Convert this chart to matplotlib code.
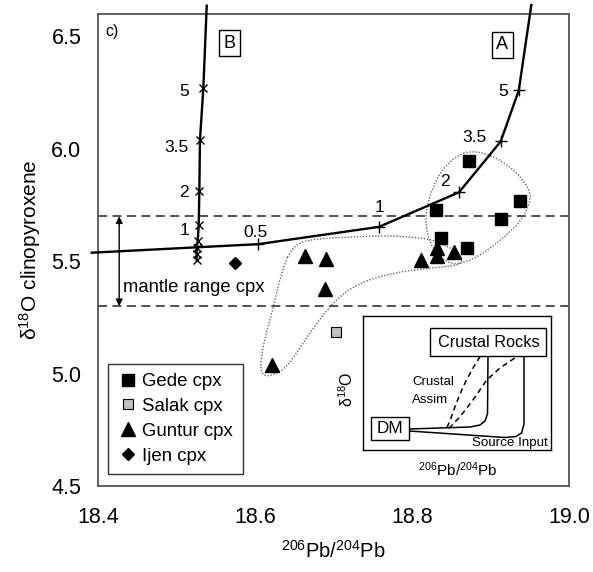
import matplotlib
matplotlib.use('Agg')
import matplotlib.pyplot as plt
from matplotlib.patches import Rectangle, PathPatch
from matplotlib.path import Path

plt.rcParams['font.family'] = ['Liberation Sans', 'DejaVu Sans']
plt.rcParams['mathtext.default'] = 'regular'

# ---------------- data ----------------
gede_x = [18.873, 18.938, 18.830, 18.913, 18.837, 18.870]
gede_y = [5.945, 5.767, 5.728, 5.686, 5.604, 5.557]
salak_x = [18.703]
salak_y = [5.186]
guntur_x = [18.622, 18.664, 18.691, 18.689, 18.811, 18.832, 18.832, 18.854]
guntur_y = [5.040, 5.524, 5.512, 5.378, 5.506, 5.561, 5.524, 5.539]
ijen_x = [18.575]
ijen_y = [5.490]

# mixing curve A (+ markers at 0.5, 1, 2, 3.5, 5)
curveA_x = [18.392, 18.604, 18.758, 18.860, 18.913, 18.936, 18.952]
curveA_y = [5.538, 5.576, 5.653, 5.807, 6.033, 6.260, 6.640]
markA_x = [18.604, 18.758, 18.860, 18.913, 18.936]
markA_y = [5.576, 5.653, 5.807, 6.033, 6.260]
labelsA = ['0.5', '1', '2', '3.5', '5']
labelA_x = [18.600, 18.758, 18.842, 18.880, 18.916]
labelA_y = [5.629, 5.741, 5.853, 6.049, 6.254]

# mixing curve B (x markers)
curveB_x = [18.5257, 18.5257, 18.5257, 18.5270, 18.5283, 18.5291, 18.5299, 18.5342, 18.5385]
curveB_y = [5.504, 5.531, 5.561, 5.588, 5.661, 5.811, 6.040, 6.271, 6.637]
markB_x = curveB_x[:-1]
markB_y = curveB_y[:-1]
labelsB = ['1', '2', '3.5', '5']
labelB_y = [5.638, 5.804, 6.004, 6.254]
labelB_x = 18.516

mantle_low, mantle_high = 5.3, 5.7

# envelopes (dotted fields), outline vertices
gede_env_x = [18.874, 18.896, 18.921, 18.941, 18.952, 18.948, 18.940, 18.925, 18.903,
              18.883, 18.864, 18.851, 18.836, 18.823, 18.817, 18.819, 18.827, 18.839, 18.857]
gede_env_y = [5.991, 5.978, 5.933, 5.866, 5.799, 5.741, 5.688, 5.630, 5.567,
              5.518, 5.491, 5.487, 5.518, 5.576, 5.665, 5.746, 5.835, 5.911, 5.969]
gunt_env_x = [18.6446, 18.6535, 18.6675, 18.6917, 18.7210, 18.7465, 18.7809, 18.7975,
              18.8140, 18.8318, 18.8446, 18.8573, 18.8650, 18.8611, 18.8484, 18.8318,
              18.8102, 18.7809, 18.7465, 18.7299, 18.7146, 18.7019, 18.6892, 18.6701,
              18.6535, 18.6408, 18.6255, 18.6127, 18.6064, 18.6089, 18.6153, 18.6229,
              18.6293, 18.6382]
gunt_env_y = [5.540, 5.576, 5.594, 5.603, 5.607, 5.612, 5.612, 5.607,
              5.603, 5.589, 5.567, 5.540, 5.509, 5.487, 5.478, 5.473,
              5.464, 5.451, 5.420, 5.393, 5.362, 5.321, 5.272, 5.183,
              5.094, 5.031, 4.996, 4.987, 5.018, 5.094, 5.196, 5.286,
              5.388, 5.496]

# inset schematic (drawn in its own pixel-like frame)
inset_solid1 = [(409, 429), (470, 427), (480, 425), (485, 421), (487.5, 414), (488, 357)]
inset_solid2 = [(409, 431), (505, 437.5), (516, 436.5), (521.5, 433), (524, 424), (524, 357)]
inset_dash1 = [(447, 427.5), (451, 418), (455, 406.7), (460, 394), (465, 383), (473, 368), (480, 356.7)]
inset_dash2 = [(449, 428.3), (460, 416.7), (473, 400), (486.7, 380), (500, 368), (516.7, 356.7)]


def smooth_closed_path(xs, ys):
    """Closed outline using quadratic Bezier segments with the vertices as control points."""
    pts = list(zip(xs, ys))
    n = len(pts)
    mids = [((pts[i][0] + pts[(i + 1) % n][0]) / 2, (pts[i][1] + pts[(i + 1) % n][1]) / 2)
            for i in range(n)]
    verts = [mids[-1]]
    codes = [Path.MOVETO]
    for i in range(n):
        verts += [pts[i], mids[i]]
        codes += [Path.CURVE3, Path.CURVE3]
    return Path(verts, codes)


# ---------------- figure ----------------
fig = plt.figure(figsize=(5.93, 5.72), dpi=100)
ax = fig.add_axes([98/593, 86/572, 471/593, 472/572])
ax.set_xlim(18.4, 19.0)
ax.set_ylim(4.5, 6.6)
ax.set_xticks([18.4, 18.6, 18.8, 19.0])
ax.set_xticklabels(['18.4', '18.6', '18.8', '19.0'])
ax.set_yticks([4.5, 5.0, 5.5, 6.0, 6.5])
ax.set_yticklabels(['4.5', '5.0', '5.5', '6.0', '6.5'])
ax.tick_params(axis='both', length=0, labelsize=15.5)
ax.tick_params(axis='x', pad=15)
ax.tick_params(axis='y', pad=12)
for s in ax.spines.values():
    s.set_color('#555555')
    s.set_linewidth(1.3)

ax.set_ylabel('δ$^{18}$O clinopyroxene', fontsize=15)
ax.yaxis.set_label_coords((43-98)/471, 0.5)
ax.set_xlabel('$^{206}$Pb/$^{204}$Pb', fontsize=14.5)
ax.xaxis.set_label_coords(0.5, (486-540)/472)

# mantle range
for yv in (mantle_low, mantle_high):
    ax.axhline(yv, color='#444444', lw=1.3, dashes=(5, 3))
ax.annotate('', xy=(18.427, mantle_high), xytext=(18.427, mantle_low),
            arrowprops=dict(arrowstyle='<|-|>', color='black', lw=1, mutation_scale=10,
                            shrinkA=0, shrinkB=0))
ax.text(18.432, 5.384, 'mantle range cpx', fontsize=13.3, ha='left', va='center')

# envelopes
for ex, ey in ((gede_env_x, gede_env_y), (gunt_env_x, gunt_env_y)):
    ax.add_patch(PathPatch(smooth_closed_path(ex, ey), fill=False,
                           ec='#666666', lw=1, ls=(0, (1, 1.2))))

# curves
ax.plot(curveA_x, curveA_y, color='black', lw=1.7, clip_on=False, zorder=3)
ax.plot(markA_x, markA_y, ls='none', marker='+', ms=8, mew=1, color='black', zorder=3)
ax.plot(curveB_x, curveB_y, color='black', lw=1.7, clip_on=False, zorder=3)
ax.plot(markB_x, markB_y, ls='none', marker='x', ms=6, mew=1, color='black', zorder=3)
for t, xx, yy in zip(labelsA, labelA_x, labelA_y):
    ax.text(xx, yy, t, fontsize=12.5, ha='center', va='center')
for t, yy in zip(labelsB, labelB_y):
    ax.text(labelB_x, yy, t, fontsize=12.5, ha='right', va='center')

# A / B boxes and panel letter
for t, xx, yy in (('A', 18.915, 6.464), ('B', 18.568, 6.469)):
    ax.text(xx, yy, t, fontsize=13, ha='center', va='center',
            bbox=dict(boxstyle='square,pad=0.25', fc='white', ec='black', lw=1))
ax.text(18.409, 6.522, 'c)', fontsize=11.5, ha='left', va='center')

# data
ax.plot(gede_x, gede_y, ls='none', marker='s', ms=8.5, color='black', label='Gede cpx', zorder=4)
ax.plot(salak_x, salak_y, ls='none', marker='s', ms=6.5, mfc='#c0c0c0', mec='black', mew=0.8,
        label='Salak cpx', zorder=4)
ax.plot(guntur_x, guntur_y, ls='none', marker='^', ms=10, color='black', label='Guntur cpx', zorder=4)
ax.plot(ijen_x, ijen_y, ls='none', marker='D', ms=6.5, color='black', label='Ijen cpx', zorder=4)

leg = ax.legend(loc='lower left', bbox_to_anchor=((108-98)/471, (486-474)/472),
                borderaxespad=0, fontsize=13.4, frameon=True, fancybox=False,
                edgecolor='black', handlelength=1.2, handletextpad=0.15,
                labelspacing=0.42, borderpad=0.5)
leg.get_frame().set_linewidth(1)

# inset schematic
ins = fig.add_axes([363/593, (572-450)/572, 188/593, 134/572])
ins.set_xlim(363, 551)
ins.set_ylim(450, 316)
ins.set_xticks([]); ins.set_yticks([])
for s in ins.spines.values():
    s.set_linewidth(1)
    s.set_color('black')
ins.add_patch(Rectangle((430, 328), 116, 28, fc='white', ec='black', lw=1, zorder=3))
ins.text(489, 342.5, 'Crustal Rocks', fontsize=11.7, ha='center', va='center', zorder=4)
ins.add_patch(Rectangle((371, 417), 38, 23, fc='white', ec='black', lw=1, zorder=3))
ins.text(390, 428.5, 'DM', fontsize=12.3, ha='center', va='center', zorder=4)
for pts in (inset_solid1, inset_solid2):
    ins.plot([p[0] for p in pts], [p[1] for p in pts], color='black', lw=1.1)
for pts in (inset_dash1, inset_dash2):
    ins.plot([p[0] for p in pts], [p[1] for p in pts], color='black', lw=1.1, dashes=(3.5, 2.5))
ins.text(412, 382, 'Crustal', fontsize=9.5, ha='left', va='center')
ins.text(412, 400, 'Assim', fontsize=9.5, ha='left', va='center')
ins.text(472, 443, 'Source Input', fontsize=9.6, ha='left', va='center')
fig.text(347/593, 1-389/572, 'δ$^{18}$O', fontsize=11.5, rotation=90, ha='center', va='center')
fig.text(458/593, 1-470/572, '$^{206}$Pb/$^{204}$Pb', fontsize=11, ha='center', va='center')

fig.savefig('out.png', dpi=100)
